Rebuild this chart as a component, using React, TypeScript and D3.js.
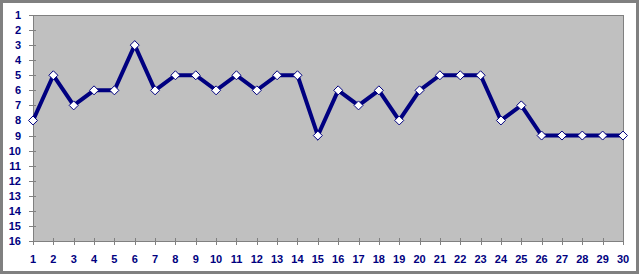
import React from "react";
import * as d3 from "d3";

const categories: number[] = Array.from({ length: 30 }, (_, i) => i + 1);
const values: number[] = [8, 5, 7, 6, 6, 3, 6, 5, 5, 6, 5, 6, 5, 5, 9, 6, 7, 6, 8, 6, 5, 5, 5, 8, 7, 9, 9, 9, 9, 9];
const yTicks: number[] = Array.from({ length: 16 }, (_, i) => i + 1);

const W = 640;
const H = 276;
const plot = { left: 33, right: 623, top: 15, bottom: 241 };

export default function App() {
  const x = d3.scaleLinear().domain([1, 30]).range([plot.left, plot.right]);
  const y = d3.scaleLinear().domain([1, 16]).range([plot.top, plot.bottom]);
  const line = d3
    .line<number>()
    .x((_, i) => x(categories[i]))
    .y((d) => y(d));
  const font = "Arial, 'Liberation Sans', sans-serif";
  const r = 4.5;
  return (
    <div style={{ position: "fixed", left: 0, top: 0 }}>
      <svg width={W} height={H} style={{ display: "block" }}>
        <rect x={0} y={0} width={W} height={H} fill="#ffffff" />
        <rect x={1.5} y={1.5} width={636} height={271} fill="#ffffff" stroke="#808080" strokeWidth={3} />
        <rect
          x={plot.left + 0.5}
          y={plot.top + 0.5}
          width={plot.right - plot.left}
          height={plot.bottom - plot.top}
          fill="#C0C0C0"
          stroke="#808080"
          strokeWidth={1}
        />
        {yTicks.map((t) => (
          <g key={"y" + t}>
            <line
              x1={plot.left - 4}
              x2={plot.left + 3}
              y1={Math.round(y(t)) + 0.5}
              y2={Math.round(y(t)) + 0.5}
              stroke="#808080"
            />
            <text
              x={21}
              y={y(t) + 4}
              textAnchor="end"
              fontFamily={font}
              fontWeight="bold"
              fontSize={11}
              fill="#000080"
            >
              {t}
            </text>
          </g>
        ))}
        {categories.map((c) => (
          <g key={"x" + c}>
            <line
              x1={Math.round(x(c)) + 0.5}
              x2={Math.round(x(c)) + 0.5}
              y1={plot.bottom - 3}
              y2={plot.bottom + 4}
              stroke="#808080"
            />
            <text
              x={x(c)}
              y={263}
              textAnchor="middle"
              fontFamily={font}
              fontWeight="bold"
              fontSize={11}
              fill="#000080"
            >
              {c}
            </text>
          </g>
        ))}
        <path d={line(values) || ""} fill="none" stroke="#000080" strokeWidth={4} strokeLinejoin="miter" />
        {values.map((v, i) => {
          const cx = x(categories[i]);
          const cy = y(v);
          return (
            <path
              key={"m" + i}
              d={`M${cx},${cy - r}L${cx + r},${cy}L${cx},${cy + r}L${cx - r},${cy}Z`}
              fill="#ffffff"
              stroke="#000080"
              strokeWidth={1}
            />
          );
        })}
      </svg>
    </div>
  );
}
